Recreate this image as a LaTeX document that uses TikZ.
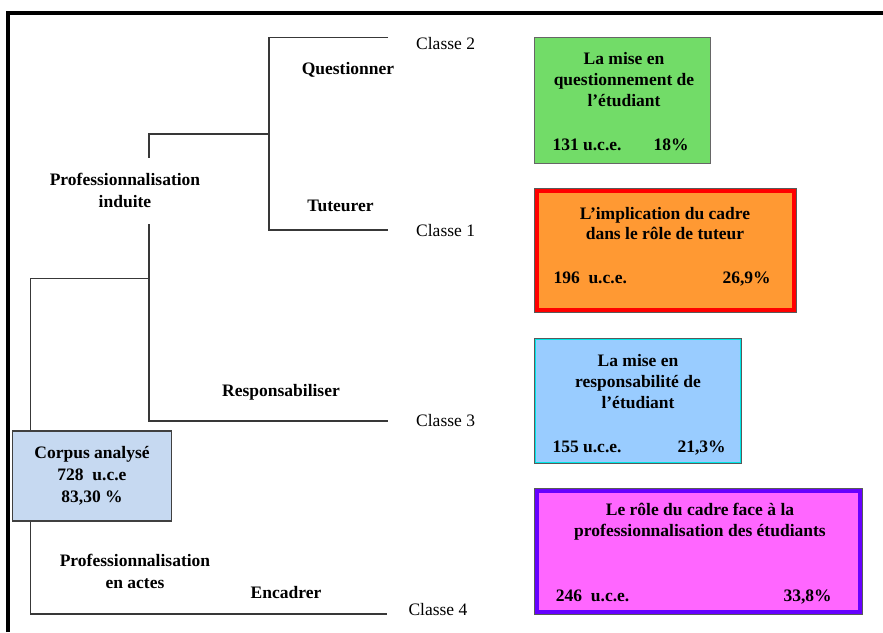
\documentclass[tikz,border=0pt]{standalone}
\usepackage{fontspec}
\setmainfont{Liberation Serif}
\definecolor{cgreen}{RGB}{114,220,104}
\definecolor{corange}{RGB}{255,153,51}
\definecolor{cblue}{RGB}{153,204,255}
\definecolor{cmag}{RGB}{255,102,255}
\definecolor{cpurple}{RGB}{102,0,255}
\definecolor{ccorpus}{RGB}{198,217,241}
\definecolor{ccyan}{RGB}{0,230,230}
\begin{document}
\begin{tikzpicture}[x=1pt,y=-1pt,
  lbl/.style={font=\bfseries\fontsize{17.5}{22}\selectfont, inner sep=0pt, align=center},
  ttl/.style={font=\bfseries\fontsize{17.5}{21}\selectfont, inner sep=0pt, align=center},
  num/.style={font=\bfseries\fontsize{17.5}{21}\selectfont, inner sep=0pt, anchor=base west},
  cls/.style={font=\fontsize{17.5}{21}\selectfont, inner sep=0pt, anchor=base west},
  tree/.style={draw=black!78, line width=1.6pt},
  outline/.style={draw=black!65, line width=0.8pt},
  ]
\useasboundingbox (0,0) rectangle (883,632);
\fill[white] (0,0) rectangle (883,632);
% frame (left and top sides)
\draw[line width=4pt] (8,632) -- (8,13) -- (883,13);

% dendrogram coordinates
\coordinate (c2) at (388,37.3);
\coordinate (q) at (268.7,37.3);
\coordinate (t) at (268.7,230);
\coordinate (c1) at (388,230);
\coordinate (j1) at (268.7,133.7);
\coordinate (pi0) at (148.7,133.7);
\coordinate (pia) at (148.7,158.3);
\coordinate (pib) at (148.7,224);
\coordinate (pi2) at (148.7,278.3);
\coordinate (pi1) at (148.7,421);
\coordinate (c3) at (388,421);
\coordinate (r0) at (30.3,278.3);
\coordinate (r1) at (30.3,614);
\coordinate (c4) at (386.7,614);

% corpus box
\node[draw=black!75, line width=1.6pt, fill=ccorpus, minimum width=159pt, minimum height=90pt,
      font=\bfseries\fontsize{17.5}{22}\selectfont, align=center, inner sep=0pt]
  (corpus) at (92,475.9) {Corpus analysé\\728~ u.c.e\\83,30 \%};

% tree lines
\draw[tree] (c2) -- (q) -- (t) -- (c1);
\draw[tree] (j1) -- (pi0) -- (pia);
\draw[tree] (pib) -- (pi1) -- (c3);
\draw[tree] (pi2) -- (r0) -- (corpus.north -| r0);
\draw[tree] (corpus.south -| r0) -- (r1) -- (c4);

% labels
\node[lbl] (pind) at (125,190) {Professionnalisation\\induite};
\node[lbl] (pact) at (135,571.5) {Professionnalisation\\en actes};
\node[lbl, anchor=base] (quest) at (348,74.8) {Questionner};
\node[lbl, anchor=base] (tut) at (340.5,211.2) {Tuteurer};
\node[lbl, anchor=base] (resp) at (281,396.2) {Responsabiliser};
\node[lbl, anchor=base] (enc) at (286,598.8) {Encadrer};

\node[cls] (cl2) at (416,49.5) {Classe 2};
\node[cls] (cl1) at (416,236.2) {Classe 1};
\node[cls] (cl3) at (416,426.5) {Classe 3};
\node[cls] (cl4) at (408.3,615.5) {Classe 4};

% green box
\node[fill=cgreen, draw=black!60, line width=1pt, minimum width=175.7pt, minimum height=126.3pt, inner sep=0pt]
  (bq) at (622.35,100.35) {};
\node[ttl] (bqt) at (624,80) {La mise en\\questionnement de\\l’étudiant};
\node[num] (bqn) at (552.3,150) {131 u.c.e.};
\node[num] (bqp) at (653.3,150) {18\%};

% orange box
\node[fill=corange, draw=red, line width=4.5pt, minimum width=257.2pt, minimum height=119.8pt, inner sep=0pt]
  (bt) at (665.35,250.35) {};
\draw[outline] (bt.north west) rectangle (bt.south east);
\node[ttl, font=\bfseries\fontsize{17.5}{19.5}\selectfont] (btt) at (665,223.5) {L’implication du cadre\\dans le rôle de tuteur};
\node[num] (btn) at (553.3,283) {196~ u.c.e.};
\node[num] (btp) at (722.3,283) {26,9\%};

% blue box
\node[fill=cblue, draw=ccyan, line width=1.6pt, minimum width=205.5pt, minimum height=123.8pt, inner sep=0pt]
  (br) at (637.85,401) {};
\draw[outline] (br.north west) rectangle (br.south east);
\node[ttl] (brt) at (638,381.5) {La mise en\\responsabilité de\\l’étudiant};
\node[num] (brn) at (552.3,452) {155 u.c.e.};
\node[num] (brp) at (677.3,452) {21,3\%};

% magenta box
\node[fill=cmag, draw=cpurple, line width=5pt, minimum width=323.5pt, minimum height=121.8pt, inner sep=0pt]
  (be) at (698.5,551.35) {};
\draw[outline] (be.north west) rectangle (be.south east);
\node[ttl] (bet) at (700,522) {Le rôle du cadre face à la\\professionnalisation des étudiants};
\node[num] (ben) at (555.7,601) {246~ u.c.e.};
\node[num] (bep) at (783.3,601) {33,8\%};
\end{tikzpicture}
\end{document}
